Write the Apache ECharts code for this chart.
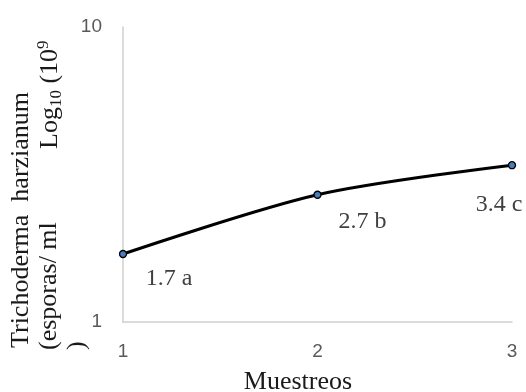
<!DOCTYPE html>
<html><head><meta charset="utf-8">
<script src="https://cdn.jsdelivr.net/npm/echarts@6/dist/echarts.min.js"></script>
<style>html,body{margin:0;padding:0;background:#fff}#c{width:526px;height:392px}</style>
</head><body><div id="c"></div>
<script>
const muestreos = [1, 2, 3];
const valores = [1.7, 2.7, 3.4];
const etiquetas = ['1.7 a', '2.7 b', '3.4 c'];
const yTicks = [1, 10];
const labelOffsets = [[46, 25], [45, 27], [-13, 39]];

const chart = echarts.init(document.getElementById('c'));
const serif = '"Liberation Serif", "Times New Roman", serif';
const sans = '"Liberation Sans", Arial, sans-serif';
chart.setOption({
  animation: false,
  grid: { left: 123, right: 14, top: 27, bottom: 70 },
  xAxis: {
    type: 'value', min: 1, max: 3, interval: 1,
    axisLine: { show: true, lineStyle: { color: '#d0d0d0', width: 1.5 } },
    axisTick: { show: false },
    splitLine: { show: false },
    axisLabel: { color: '#595959', fontFamily: sans, fontSize: 19, margin: 20 }
  },
  yAxis: {
    type: 'log', logBase: 10, min: yTicks[0], max: yTicks[1],
    axisLine: { show: true, lineStyle: { color: '#d0d0d0', width: 1.5 } },
    axisTick: { show: false },
    splitLine: { show: false },
    axisLabel: { color: '#595959', fontFamily: sans, fontSize: 19, margin: 21 }
  },
  series: [{
    type: 'line',
    data: muestreos.map((m, i) => ({
      value: [m, valores[i]],
      label: { offset: labelOffsets[i] }
    })),
    smooth: 0.3,
    symbol: 'circle',
    symbolSize: 7,
    lineStyle: { color: '#000', width: 3 },
    itemStyle: { color: '#4a7ebb', borderColor: '#000', borderWidth: 1.3 },
    label: {
      show: true, position: 'inside',
      formatter: p => etiquetas[p.dataIndex],
      fontFamily: serif, fontSize: 24, color: '#404040'
    },
    z: 3
  }],
  graphic: [
    { type: 'text', x: 298, y: 382, style: { text: 'Muestreos', font: '26px ' + serif, fill: '#1a1a1a', textAlign: 'center', textVerticalAlign: 'middle' } },
    { type: 'text', x: 21, y: 348, rotation: Math.PI / 2, style: { text: 'Trichoderma  harzianum', font: '26px ' + serif, fill: '#1a1a1a', textAlign: 'left', textVerticalAlign: 'middle' } },
    { type: 'text', x: 49, y: 350, rotation: Math.PI / 2, style: { text: '(esporas/ ml', font: '26px ' + serif, fill: '#1a1a1a', textAlign: 'left', textVerticalAlign: 'middle' } },
    { type: 'text', x: 50, y: 149, rotation: Math.PI / 2, style: {
      text: '{n|Log}{sub|10}{n| (10}{sup|9}', textAlign: 'left', textVerticalAlign: 'middle',
      rich: {
        n: { font: '26px ' + serif, fill: '#1a1a1a', lineHeight: 30, verticalAlign: 'middle' },
        sub: { font: '17px ' + serif, fill: '#1a1a1a', lineHeight: 30, padding: [10, 0, 0, 0], verticalAlign: 'bottom' },
        sup: { font: '17px ' + serif, fill: '#1a1a1a', lineHeight: 30, padding: [0, 0, 12, 0], verticalAlign: 'top' }
      }
    } },
    { type: 'text', x: 77, y: 350, rotation: Math.PI / 2, style: { text: ')', font: '26px ' + serif, fill: '#1a1a1a', textAlign: 'left', textVerticalAlign: 'middle' } }
  ]
});
</script></body></html>
